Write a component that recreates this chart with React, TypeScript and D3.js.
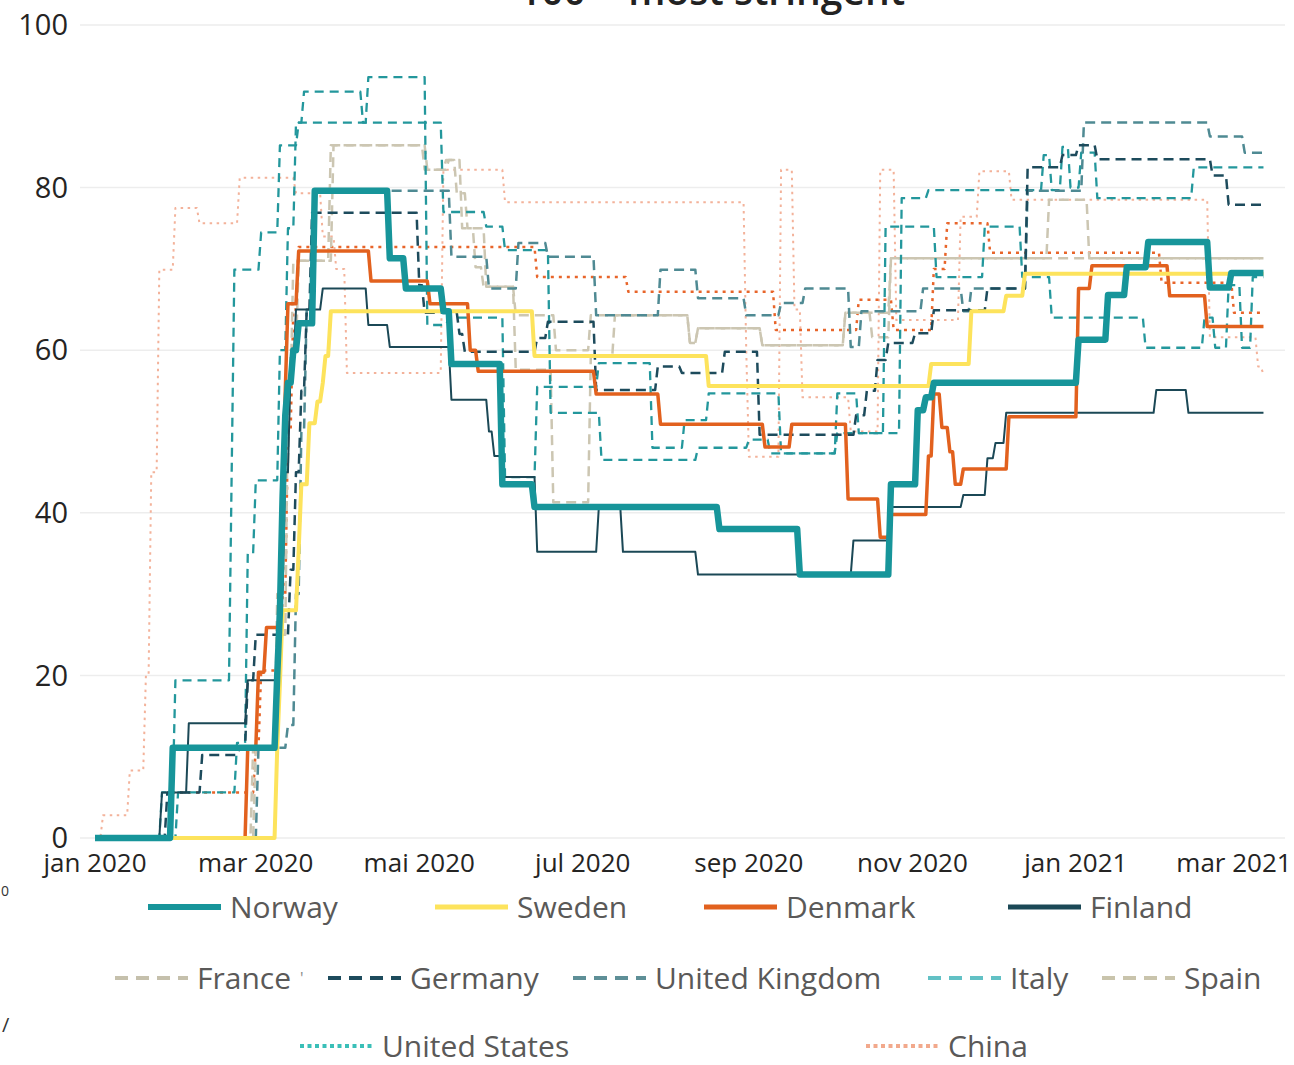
import React from "react";
import * as d3 from "d3";

type Step = [string, number];

// ---- tick labels ----
const xTickDates = ["2020-01-01", "2020-03-01", "2020-05-01", "2020-07-01", "2020-09-01", "2020-11-01", "2021-01-01", "2021-03-01"];
const xTickLabels = ["jan 2020", "mar 2020", "mai 2020", "jul 2020", "sep 2020", "nov 2020", "jan 2021", "mar 2021"];
const yTicks = [0, 20, 40, 60, 80, 100];

// ---- series values (date from which the value holds, value) ----
const norway: Step[] = [["2020-01-01", 0], ["2020-01-30", 11.1], ["2020-03-09", 20], ["2020-03-10", 28], ["2020-03-11", 42], ["2020-03-12", 52], ["2020-03-13", 56], ["2020-03-15", 60], ["2020-03-17", 63.3], ["2020-03-23", 79.6], ["2020-04-20", 71.3], ["2020-04-26", 67.6], ["2020-05-10", 64.8], ["2020-05-13", 58.3], ["2020-06-01", 43.5], ["2020-06-13", 40.7], ["2020-08-21", 38], ["2020-09-20", 32.4], ["2020-10-24", 43.5], ["2020-11-03", 52.6], ["2020-11-06", 54.2], ["2020-11-09", 56], ["2021-01-02", 61.3], ["2021-01-13", 66.8], ["2021-01-20", 70.2], ["2021-01-28", 73.3], ["2021-02-20", 67.7], ["2021-02-28", 69.5], ["2021-03-12", 69.5]];

const sweden: Step[] = [["2020-01-01", 0], ["2020-03-09", 11.1], ["2020-03-10", 19], ["2020-03-11", 28], ["2020-03-17", 35.4], ["2020-03-18", 43.5], ["2020-03-21", 51], ["2020-03-24", 53.7], ["2020-03-26", 56], ["2020-03-27", 59.3], ["2020-03-29", 64.8], ["2020-06-13", 59.3], ["2020-08-17", 55.6], ["2020-11-08", 58.3], ["2020-11-23", 64.8], ["2020-12-06", 66.7], ["2020-12-13", 69.4], ["2021-03-12", 69.4]];

const denmark: Step[] = [["2020-01-01", 0], ["2020-02-27", 11.1], ["2020-03-02", 20.4], ["2020-03-05", 25.9], ["2020-03-11", 40], ["2020-03-12", 55], ["2020-03-13", 65.7], ["2020-03-17", 72.2], ["2020-04-13", 68.5], ["2020-05-05", 65.7], ["2020-05-20", 60], ["2020-05-23", 57.4], ["2020-07-06", 54.6], ["2020-07-30", 50.9], ["2020-09-07", 48.1], ["2020-09-17", 50.9], ["2020-10-08", 41.7], ["2020-10-20", 37], ["2020-10-24", 39.8], ["2020-11-07", 47], ["2020-11-09", 54.6], ["2020-11-12", 50.5], ["2020-11-15", 47.5], ["2020-11-17", 43.5], ["2020-11-20", 45.4], ["2020-12-07", 51.8], ["2021-01-02", 67.6], ["2021-01-07", 70.4], ["2021-02-05", 66.7], ["2021-02-19", 62.9], ["2021-03-12", 62.9]];

const finland: Step[] = [["2020-01-01", 0], ["2020-01-26", 5.6], ["2020-02-05", 14.1], ["2020-02-27", 19.4], ["2020-03-10", 30], ["2020-03-12", 45], ["2020-03-14", 58], ["2020-03-16", 65], ["2020-03-26", 67.6], ["2020-04-12", 63.1], ["2020-04-20", 60.4], ["2020-05-13", 53.9], ["2020-05-27", 50], ["2020-05-29", 47], ["2020-06-01", 44.4], ["2020-06-14", 35.2], ["2020-07-07", 40.7], ["2020-07-16", 35.2], ["2020-08-13", 32.4], ["2020-10-10", 36.6], ["2020-10-24", 40.7], ["2020-11-20", 42.2], ["2020-11-29", 46.7], ["2020-12-02", 48.6], ["2020-12-06", 52.3], ["2021-01-31", 55.1], ["2021-02-12", 52.3], ["2021-03-12", 52.3]];

const france: Step[] = [["2020-01-01", 0], ["2020-02-29", 11.1], ["2020-03-09", 30], ["2020-03-12", 46], ["2020-03-14", 60], ["2020-03-17", 71], ["2020-03-29", 85.2], ["2020-05-03", 82.2], ["2020-05-12", 83.4], ["2020-05-15", 79.3], ["2020-05-19", 75], ["2020-05-22", 70.2], ["2020-05-25", 67.8], ["2020-06-06", 57.6], ["2020-06-20", 41.3], ["2020-07-04", 59.2], ["2020-07-13", 64.3], ["2020-08-10", 60.9], ["2020-08-13", 62.7], ["2020-09-06", 60.6], ["2020-10-07", 64.6], ["2020-10-24", 71.3], ["2020-12-22", 78.5], ["2021-01-06", 71.3], ["2021-03-12", 71.3]];

const germany: Step[] = [["2020-01-01", 0], ["2020-01-28", 5.6], ["2020-02-10", 10.2], ["2020-02-24", 11.1], ["2020-02-27", 19.4], ["2020-03-01", 25], ["2020-03-14", 33], ["2020-03-16", 45], ["2020-03-18", 55], ["2020-03-20", 65], ["2020-03-22", 76.9], ["2020-05-01", 68], ["2020-05-03", 64.6], ["2020-05-16", 62], ["2020-05-18", 59.8], ["2020-06-14", 61.5], ["2020-06-18", 63.5], ["2020-07-06", 55.1], ["2020-07-29", 58], ["2020-08-07", 57.2], ["2020-08-23", 59.8], ["2020-09-05", 49.6], ["2020-10-11", 52], ["2020-10-15", 55], ["2020-10-19", 58.8], ["2020-10-23", 60.9], ["2020-11-02", 62.1], ["2020-11-09", 64.9], ["2020-11-29", 67.6], ["2020-12-14", 82.5], ["2020-12-27", 84], ["2021-01-02", 85.2], ["2021-01-09", 83.5], ["2021-02-21", 81.5], ["2021-02-27", 77.9], ["2021-03-12", 77.9]];

const unitedKingdom: Step[] = [["2020-01-01", 0], ["2020-03-02", 11.1], ["2020-03-13", 13.9], ["2020-03-16", 30], ["2020-03-18", 50], ["2020-03-20", 65], ["2020-03-23", 79.6], ["2020-05-13", 71.5], ["2020-05-27", 67.6], ["2020-06-07", 73.2], ["2020-06-18", 71.5], ["2020-07-06", 64.3], ["2020-07-30", 69.9], ["2020-08-13", 66.4], ["2020-08-31", 64.3], ["2020-09-13", 65.8], ["2020-09-22", 67.6], ["2020-10-09", 60.4], ["2020-10-13", 64.8], ["2020-11-05", 67.6], ["2020-11-20", 64.8], ["2020-11-23", 67.6], ["2020-12-14", 79.6], ["2021-01-04", 88], ["2021-02-20", 86.3], ["2021-03-05", 84.3], ["2021-03-12", 84.3]];

const italy: Step[] = [["2020-01-01", 0], ["2020-01-26", 5.6], ["2020-01-31", 19.4], ["2020-02-21", 45], ["2020-02-22", 69.9], ["2020-03-03", 74.5], ["2020-03-10", 85.2], ["2020-03-17", 88], ["2020-05-10", 77], ["2020-05-26", 75.2], ["2020-06-02", 72.3], ["2020-06-19", 52.3], ["2020-07-08", 46.5], ["2020-08-13", 48], ["2020-09-01", 49], ["2020-09-09", 47.3], ["2020-10-04", 49.8], ["2020-10-28", 78.7], ["2020-11-07", 79.7], ["2020-12-20", 84], ["2020-12-23", 79.7], ["2020-12-27", 85], ["2020-12-30", 80], ["2021-01-03", 84.3], ["2021-01-09", 78.7], ["2021-02-14", 82.5], ["2021-03-12", 82.5]];

const italyRegional: Step[] = [["2020-01-01", 0], ["2020-02-01", 5.6], ["2020-02-23", 11.7], ["2020-02-27", 35], ["2020-03-01", 44], ["2020-03-10", 60], ["2020-03-13", 75], ["2020-03-16", 88], ["2020-03-19", 91.8], ["2020-04-10", 88], ["2020-04-12", 93.6], ["2020-05-04", 63.1], ["2020-05-12", 64], ["2020-06-02", 44.4], ["2020-06-14", 55.5], ["2020-07-07", 58.4], ["2020-07-27", 48], ["2020-08-08", 51.4], ["2020-08-17", 54.7], ["2020-09-13", 47.3], ["2020-10-04", 54.7], ["2020-10-12", 49.8], ["2020-10-22", 75.2], ["2020-11-10", 69], ["2020-11-28", 75.2], ["2020-12-12", 69], ["2020-12-23", 64], ["2021-01-27", 60.3], ["2021-02-18", 64], ["2021-02-22", 60.3], ["2021-02-27", 68], ["2021-03-04", 60.3], ["2021-03-08", 69], ["2021-03-12", 69]];

const spain: Step[] = [["2020-01-01", 0], ["2020-03-01", 11.1], ["2020-03-10", 25], ["2020-03-13", 55], ["2020-03-15", 71], ["2020-03-30", 85.2], ["2020-05-04", 82.2], ["2020-05-11", 83.4], ["2020-05-17", 75], ["2020-05-26", 67.8], ["2020-06-06", 64.3], ["2020-06-21", 60], ["2020-07-04", 64.3], ["2020-08-10", 60.9], ["2020-08-13", 62.7], ["2020-09-06", 60.6], ["2020-10-07", 64.6], ["2020-10-17", 61.6], ["2020-10-24", 71.3], ["2021-03-12", 71.3]];

const unitedStates: Step[] = [["2020-01-01", 0], ["2020-01-30", 5.6], ["2020-03-01", 11.1], ["2020-03-03", 20.6], ["2020-03-11", 30], ["2020-03-13", 50], ["2020-03-15", 65], ["2020-03-17", 72.7], ["2020-06-14", 69], ["2020-07-18", 67.2], ["2020-09-11", 62.5], ["2020-10-12", 66.2], ["2020-10-25", 62.5], ["2020-11-09", 70], ["2020-11-14", 75.6], ["2020-11-30", 72], ["2021-02-02", 68.3], ["2021-03-01", 64.6], ["2021-03-12", 64.6]];

const china: Step[] = [["2020-01-01", 0], ["2020-01-04", 2.8], ["2020-01-14", 8.3], ["2020-01-20", 20], ["2020-01-22", 45], ["2020-01-25", 69.9], ["2020-01-31", 77.5], ["2020-02-09", 75.6], ["2020-02-24", 81.2], ["2020-03-16", 79.3], ["2020-03-26", 74], ["2020-03-31", 70], ["2020-04-04", 57.2], ["2020-05-10", 82.2], ["2020-06-02", 78.2], ["2020-08-31", 60], ["2020-09-01", 46.9], ["2020-09-13", 82.2], ["2020-09-18", 65], ["2020-09-21", 54.2], ["2020-10-09", 50], ["2020-10-20", 82.2], ["2020-10-26", 63.7], ["2020-11-19", 76.4], ["2020-11-26", 82], ["2020-12-08", 78.5], ["2021-02-20", 61.6], ["2021-03-10", 58], ["2021-03-12", 57]];

// ---- styles (drawing order: back to front) ----
const seriesStyles = [
  { data: china, color: "#F3B29A", width: 2, dash: "2.5 4.5" },
  { data: unitedStates, color: "#E8652A", width: 2.5, dash: "3 5" },
  { data: spain, color: "#CCC6B2", width: 2.5, dash: "10 6" },
  { data: france, color: "#CCC6B2", width: 2.5, dash: "10 6" },
  { data: italyRegional, color: "#23979C", width: 2.3, dash: "9 6" },
  { data: italy, color: "#23979C", width: 2.3, dash: "9 6" },
  { data: unitedKingdom, color: "#4F8A93", width: 2.5, dash: "10 6" },
  { data: germany, color: "#1D4B5C", width: 2.5, dash: "10 6" },
  { data: finland, color: "#1B4856", width: 2, dash: null },
  { data: denmark, color: "#E2611E", width: 3.5, dash: null },
  { data: sweden, color: "#FDE35C", width: 4, dash: null },
  { data: norway, color: "#17959A", width: 6.5, dash: null },
];

const legendRows = [
  [
    { name: "Norway", color: "#17959A", width: 6, dash: null },
    { name: "Sweden", color: "#FDE35C", width: 5, dash: null },
    { name: "Denmark", color: "#E2611E", width: 5, dash: null },
    { name: "Finland", color: "#1B4856", width: 5, dash: null },
  ],
  [
    { name: "France", color: "#C5C0AC", width: 4, dash: "13 8" },
    { name: "Germany", color: "#1D4B5C", width: 4, dash: "13 8" },
    { name: "United Kingdom", color: "#5E8F97", width: 4, dash: "13 8" },
    { name: "Italy", color: "#62C1C5", width: 4, dash: "13 8" },
    { name: "Spain", color: "#C9C4AC", width: 4, dash: "13 8" },
  ],
  [
    { name: "United States", color: "#3ABFB8", width: 4, dash: "4 3.5" },
    { name: "China", color: "#F2A98C", width: 4, dash: "4 3.5" },
  ],
];

const legendRowX = [
  [148, 435, 704, 1008],
  [115, 328, 573, 928, 1102],
  [300, 866],
];
const legendRowY = [907, 978, 1046];

const parse = d3.timeParse("%Y-%m-%d");

function toPoints(steps: Step[]): [Date, number][] {
  const pts: [Date, number][] = [];
  for (let i = 0; i < steps.length; i++) {
    const d = parse(steps[i][0]) as Date;
    const v = steps[i][1];
    pts.push([d, v]);
    if (i < steps.length - 1) {
      const next = parse(steps[i + 1][0]) as Date;
      const prev = d3.timeDay.offset(next, -1);
      if (prev > d) pts.push([prev, v]);
    }
  }
  return pts;
}

export default function App() {
  const W = 1294;
  const H = 1065;
  const x = d3.scaleTime().domain([parse("2020-01-01") as Date, parse("2021-03-01") as Date]).range([95, 1234]);
  const y = d3.scaleLinear().domain([0, 100]).range([838, 25]);
  const line = d3
    .line<[Date, number]>()
    .x((d) => x(d[0]))
    .y((d) => y(d[1]));

  const font = "'Open Sans', 'Noto Sans', sans-serif";

  return (
    <>
      <style>{`body{margin:0;background:#fff;}`}</style>
      <svg width={W} height={H} style={{ display: "block", background: "#fff" }}>
        {/* cut-off title (only its lower edge is visible in the source) */}
        <text x={712} y={5} textAnchor="middle" fontFamily={font} fontSize={39} fontWeight={600} fill="#222">
          100 = most stringent
        </text>
        {/* gridlines */}
        {yTicks.map((t) => (
          <line key={"g" + t} x1={80} x2={1285} y1={y(t)} y2={y(t)} stroke="#EDEDED" strokeWidth={1.5} />
        ))}
        {/* y labels */}
        {yTicks.map((t) => (
          <text key={"y" + t} x={68} y={y(t)} dy="0.35em" textAnchor="end" fontFamily={font} fontSize={29} fill="#252423">
            {t}
          </text>
        ))}
        {/* x labels */}
        {xTickDates.map((dt, i) => (
          <text key={"x" + i} x={x(parse(dt) as Date)} y={872} textAnchor="middle" fontFamily={font} fontSize={26} fill="#252423">
            {xTickLabels[i]}
          </text>
        ))}
        {/* series */}
        <g fill="none">
          {seriesStyles.map((s, i) => (
            <path
              key={"s" + i}
              d={line(toPoints(s.data)) || ""}
              stroke={s.color}
              strokeWidth={s.width}
              strokeDasharray={s.dash || undefined}
              strokeLinejoin="round"
            />
          ))}
        </g>
        {/* legend */}
        {legendRows.map((row, ri) =>
          row.map((item, ii) => {
            const lx = legendRowX[ri][ii];
            const ly = legendRowY[ri];
            return (
              <g key={"l" + ri + "-" + ii}>
                <line x1={lx} x2={lx + 73} y1={ly} y2={ly} stroke={item.color} strokeWidth={item.width} strokeDasharray={item.dash || undefined} />
                <text x={lx + 82} y={ly} dy="0.36em" fontFamily={font} fontSize={30} fill="#5A5958">
                  {item.name}
                </text>
              </g>
            );
          })
        )}
        {/* stray marks from source */}
        <text x={9} y={896} textAnchor="end" fontFamily={font} fontSize={14} fill="#333">0</text>
        <text x={2} y={1032} fontFamily={font} fontSize={20} fill="#333">/</text>
        <text x={300} y={984} fontFamily={font} fontSize={16} fill="#8A8A8A">'</text>
      </svg>
    </>
  );
}
